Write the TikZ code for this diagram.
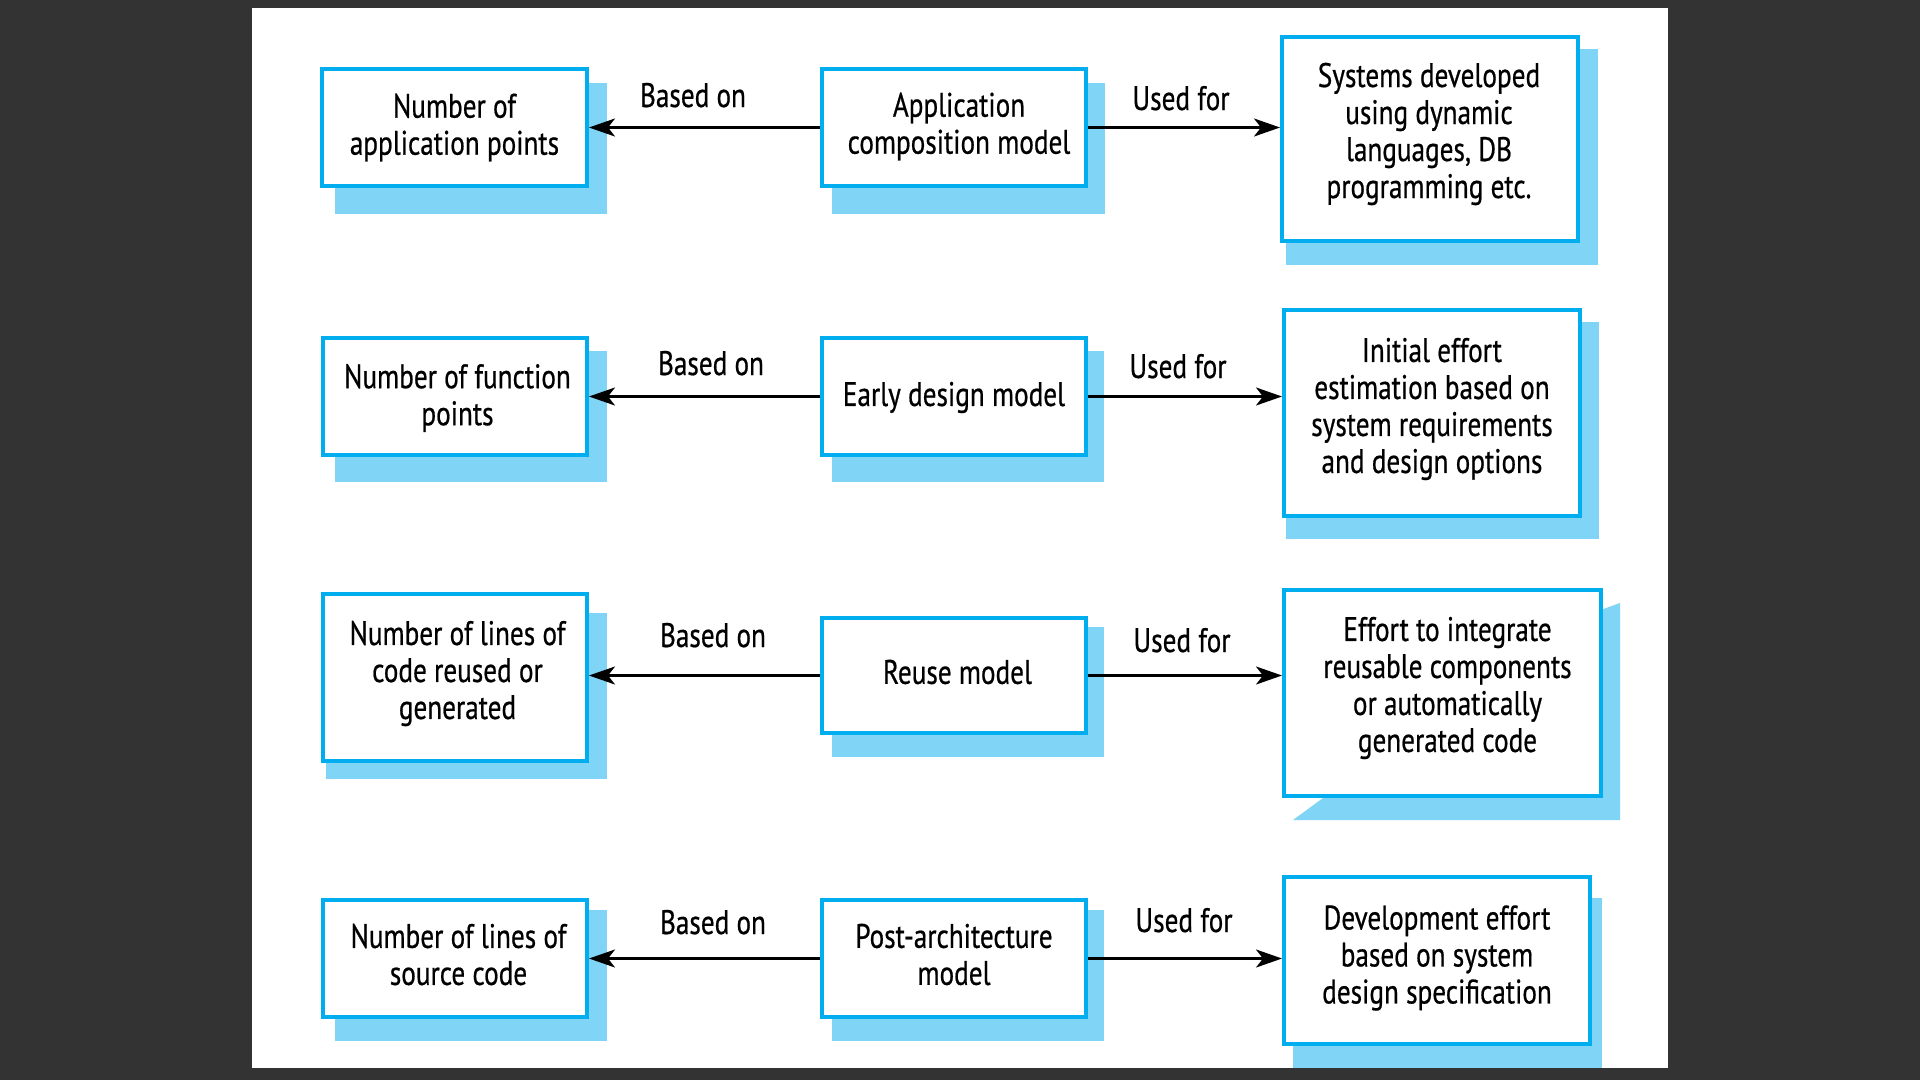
\documentclass[tikz,border=0pt]{standalone}
\usepackage{fontspec}
\setmainfont{PT Sans}[FakeStretch=0.80,FakeBold=0.6]
\usetikzlibrary{arrows.meta}
\definecolor{pagebg}{HTML}{333333}
\definecolor{boxline}{HTML}{00AEEF}
\definecolor{shadowblue}{HTML}{80D5F7}
\tikzset{
  box/.style={draw=boxline, line width=4pt, fill=white, inner sep=0pt},
  txt/.style={align=center, inner sep=0pt, font=\fontsize{34}{37}\selectfont},
  lbl/.style={anchor=base, inner sep=0pt, font=\fontsize{34}{37}\selectfont},
  arr/.style={-{Stealth[length=26pt,width=18pt,inset=7pt]}, line width=2.5pt, black},
  shade/.style={fill=shadowblue}
}
\begin{document}
\begin{tikzpicture}[x=1pt,y=-1pt]
\fill[pagebg] (0,0) rectangle (1920,1080);
\fill[white] (252,8) rectangle (1668,1068);
\useasboundingbox (0,0) rectangle (1920,1080);

% shadows
\fill[shade] (335,83) rectangle (607,214);
\fill[shade] (832,83) rectangle (1105,214);
\fill[shade] (1286,49) rectangle (1598,265);
\fill[shade] (335,351) rectangle (607,482);
\fill[shade] (832,351) rectangle (1104,482);
\fill[shade] (1286,322) rectangle (1599,539);
\fill[shade] (326,613) rectangle (607,779);
\fill[shade] (832,627) rectangle (1104,757);
\fill[shade] (1595,612) -- (1620,603) -- (1620,820) -- (1293,820) -- (1323,798) -- (1595,798) -- cycle;
\fill[shade] (335,910) rectangle (607,1041);
\fill[shade] (832,910) rectangle (1104,1041);
\fill[shade] (1293,898) rectangle (1602,1068);

% boxes
\node[box, minimum width=265pt, minimum height=117pt] (a1) at (454.5,127.5) {};
\node[box, minimum width=264pt, minimum height=117pt] (m1) at (954,127.5) {};
\node[box, minimum width=296pt, minimum height=204pt] (c1) at (1430,139) {};
\node[box, minimum width=264pt, minimum height=117pt] (a2) at (455,396.5) {};
\node[box, minimum width=264pt, minimum height=117pt] (m2) at (954,396.5) {};
\node[box, minimum width=296pt, minimum height=206pt] (c2) at (1432,413) {};
\node[box, minimum width=264pt, minimum height=167pt] (a3) at (455,677.5) {};
\node[box, minimum width=264pt, minimum height=115pt] (m3) at (954,675.5) {};
\node[box, minimum width=317pt, minimum height=206pt] (c3) at (1442.5,693) {};
\node[box, minimum width=264pt, minimum height=117pt] (a4) at (455,958.5) {};
\node[box, minimum width=264pt, minimum height=117pt] (m4) at (954,958.5) {};
\node[box, minimum width=306pt, minimum height=167pt] (c4) at (1437,960.5) {};

% box texts
\node[txt] (a1t) at (a1.center) {Number of\\application points};
\node[txt] (m1t) at ([xshift=5pt,yshift=1pt]m1.center) {Application\\composition model};
\node[txt] (c1t) at ([xshift=-1pt,yshift=5pt]c1.center) {Systems developed\\using dynamic\\languages, DB\\programming etc.};
\node[txt] (a2t) at ([xshift=2.5pt,yshift=-1.5pt]a2.center) {Number of function\\points};
\node[txt] (m2t) at ([yshift=-1pt]m2.center) {Early design model};
\node[txt] (c2t) at ([yshift=4pt]c2.center) {Initial effort\\estimation based on\\system requirements\\and design options};
\node[txt] (a3t) at ([xshift=2.5pt,yshift=4pt]a3.center) {Number of lines of\\code reused or\\generated};
\node[txt] (m3t) at ([xshift=3.5pt,yshift=3.5pt]m3.center) {Reuse model};
\node[txt] (c3t) at ([xshift=5pt,yshift=5pt]c3.center) {Effort to integrate\\reusable components\\or automatically\\generated code};
\node[txt] (a4t) at ([xshift=3.5pt,yshift=4pt]a4.center) {Number of lines of\\source code};
\node[txt] (m4t) at ([yshift=4pt]m4.center) {Post-architecture\\model};
\node[txt] (c4t) at ([yshift=2.5pt]c4.center) {Development effort\\based on system\\design specification};

% connectors
\draw[arr] (m1.west) -- (a1.east);
\draw[arr] (m1.east) -- (m1.east -| c1.west);
\draw[arr] (m2.west) -- (a2.east);
\draw[arr] (m2.east) -- (m2.east -| c2.west);
\draw[arr] (m3.west) -- (a3.east |- m3.west);
\draw[arr] (m3.east) -- (m3.east -| c3.west);
\draw[arr] (m4.west) -- (a4.east);
\draw[arr] (m4.east) -- (m4.east -| c4.west);

% labels
\node[lbl] (b1) at (693,107) {Based on};
\node[lbl] (u1) at (1181,110) {Used for};
\node[lbl] (b2) at (711,375) {Based on};
\node[lbl] (u2) at (1178,378) {Used for};
\node[lbl] (b3) at (713,647) {Based on};
\node[lbl] (u3) at (1182,652) {Used for};
\node[lbl] (b4) at (713,934) {Based on};
\node[lbl] (u4) at (1184,932) {Used for};
\end{tikzpicture}
\end{document}
